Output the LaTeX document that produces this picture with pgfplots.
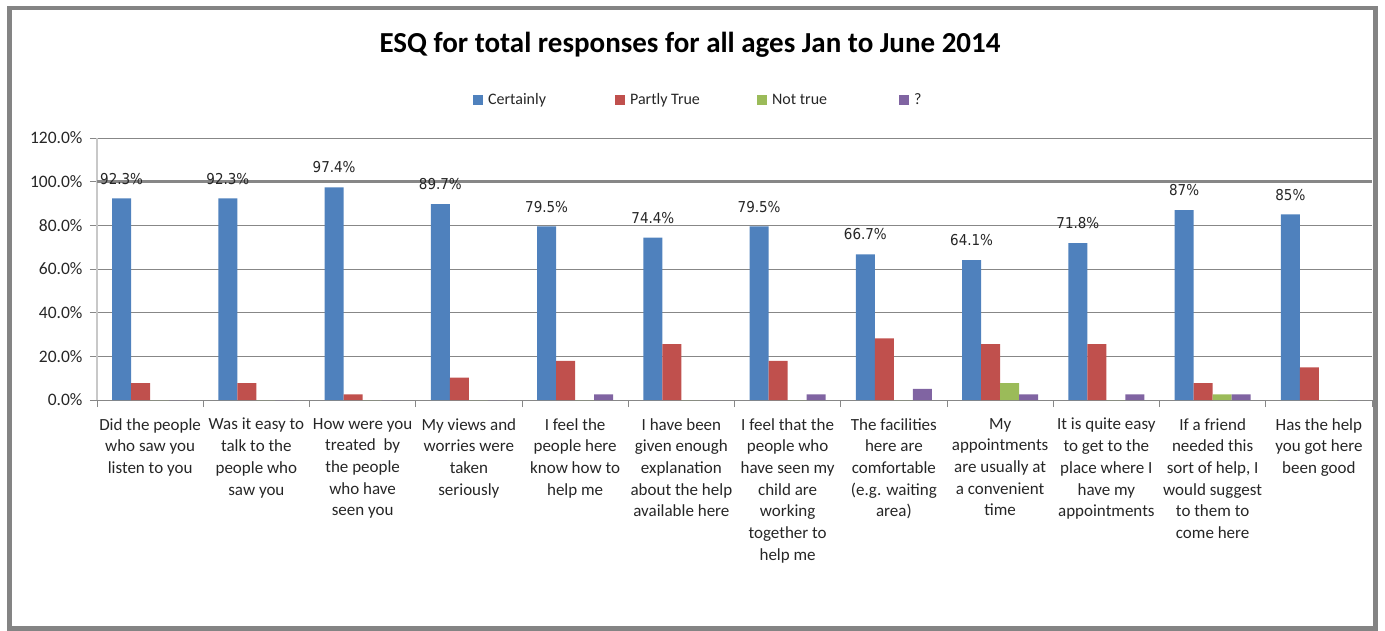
\documentclass[border=0pt]{standalone}
\usepackage{pgfplots}
\pgfplotsset{compat=1.18}
\usepackage{fontspec}
\setmainfont{Carlito}
\newfontfamily\dlfont[FakeStretch=0.9]{DejaVu Sans}
\definecolor{cBlue}{HTML}{4F81BD}
\definecolor{cRed}{HTML}{C0504D}
\definecolor{cGreen}{HTML}{9BBB59}
\definecolor{cPurple}{HTML}{8064A2}
\definecolor{frameGray}{HTML}{848484}
\definecolor{gridGray}{HTML}{878787}
\definecolor{axisLight}{HTML}{C8C8C8}
\begin{document}
\begin{tikzpicture}[x=1pt,y=1pt]
\useasboundingbox (0,0) rectangle (1385,-630);
\draw[line width=4.5pt, color=frameGray] (9.5,-8) rectangle (1375.5,-628.5);
\node[font=\fontsize{29}{33}\selectfont\bfseries] at (690,-45) {ESQ for total responses for all ages Jan to June 2014};
\begin{axis}[
  at={(97pt,-400pt)}, anchor=south west,
  scale only axis, width=1275pt, height=262pt,
  clip=false,
  ybar=0pt, bar width=19pt,
  xmin=-0.5, xmax=11.5, ymin=0, ymax=120,
  axis x line=bottom, axis y line=left,
  x axis line style={-, draw=gridGray, line width=1pt},
  y axis line style={-, draw=axisLight, line width=1.2pt},
  ytick={0,20,40,60,80,100,120},
  yticklabel={\pgfmathprintnumber[fixed,fixed zerofill,precision=1]{\tick}\%},
  /pgf/number format/assume math mode=true,
  yticklabel style={font=\fontsize{17.5}{20}\selectfont, text=black!85, xshift=-4pt},
  ymajorgrids,
  major grid style={draw=gridGray, line width=1pt},
  tick align=outside,
  major tick length=7pt,
  major y tick style={draw=gridGray, line width=1pt},
  major x tick style={draw=none},
  minor x tick style={draw=gridGray, line width=1pt},
  minor tick length=7pt,
  xtick={0,1,2,3,4,5,6,7,8,9,10,11},
  minor xtick={-0.5,0.5,1.5,2.5,3.5,4.5,5.5,6.5,7.5,8.5,9.5,10.5,11.5},
  xticklabels={
    {Did the people\\who saw you\\listen to you},
    {Was it easy to\\talk to the\\people who\\saw you},
    {How were you\\treated\ \ by\\the people\\who have\\seen you},
    {My views and\\worries were\\taken\\seriously},
    {I feel the\\people here\\know how to\\help me},
    {I have been\\given enough\\explanation\\about the help\\available here},
    {I feel that the\\people who\\have seen my\\child are\\working\\together to\\help me},
    {The facilities\\here are\\comfortable\\(e.g. waiting\\area)},
    {My\\appointments\\are usually at\\a convenient\\time},
    {It is quite easy\\to get to the\\place where I\\have my\\appointments},
    {If a friend\\needed this\\sort of help, I\\would suggest\\to them to\\come here},
    {Has the help\\you got here\\been good}},
  xticklabel style={align=center, font=\fontsize{17}{21.7}\selectfont, anchor=north, inner sep=0pt, yshift=-11pt, text=black!85},
  extra y ticks={100},
  extra y tick labels={},
  extra y tick style={major tick length=0pt, major grid style={draw=gridGray, line width=2.6pt}},
  every axis plot post/.append style={legend image code/.code={\fill[##1] (0pt,-5pt) rectangle (10pt,5pt);}},
  legend columns=4,
  legend style={at={(axis description cs:0.2925,1.145)}, anchor=west, draw=none, fill=none,
    font=\fontsize{16}{19}\selectfont, text=black!85,
    /tikz/every odd column/.style={column sep=5pt},
    nodes={inner sep=0pt}},
]
\addplot[fill=cBlue, draw=none,
  nodes near coords, point meta=explicit symbolic,
  every node near coord/.append style={font=\dlfont\fontsize{15}{18}\selectfont, inner sep=0pt, yshift=14pt, text=black!85}]
  coordinates {(0,92.3) [92.3\%] (1,92.3) [92.3\%] (2,97.4) [97.4\%] (3,89.7) [89.7\%]
    (4,79.5) [79.5\%] (5,74.4) [74.4\%] (6,79.5) [79.5\%] (7,66.7) [66.7\%]
    (8,64.1) [64.1\%] (9,71.8) [71.8\%] (10,87) [87\%] (11,85) [85\%]};
\addlegendentry{\makebox[127pt][l]{Certainly}}
\addplot[fill=cRed, draw=none]
  coordinates {(0,7.7) (1,7.7) (2,2.6) (3,10.3) (4,17.9) (5,25.6) (6,17.9) (7,28.2) (8,25.6) (9,25.6) (10,7.7) (11,15)};
\addlegendentry{\makebox[127pt][l]{Partly True}}
\addplot[fill=cGreen, draw=none]
  coordinates {(0,0) (1,0) (2,0) (3,0) (4,0) (5,0) (6,0) (7,0) (8,7.7) (9,0) (10,2.6) (11,0)};
\addlegendentry{\makebox[127pt][l]{Not true}}
\addplot[fill=cPurple, draw=none]
  coordinates {(0,0) (1,0) (2,0) (3,0) (4,2.6) (5,0) (6,2.6) (7,5.1) (8,2.6) (9,2.6) (10,2.6) (11,0)};
\addlegendentry{\makebox[127pt][l]{?}}
\end{axis}
\end{tikzpicture}
\end{document}
